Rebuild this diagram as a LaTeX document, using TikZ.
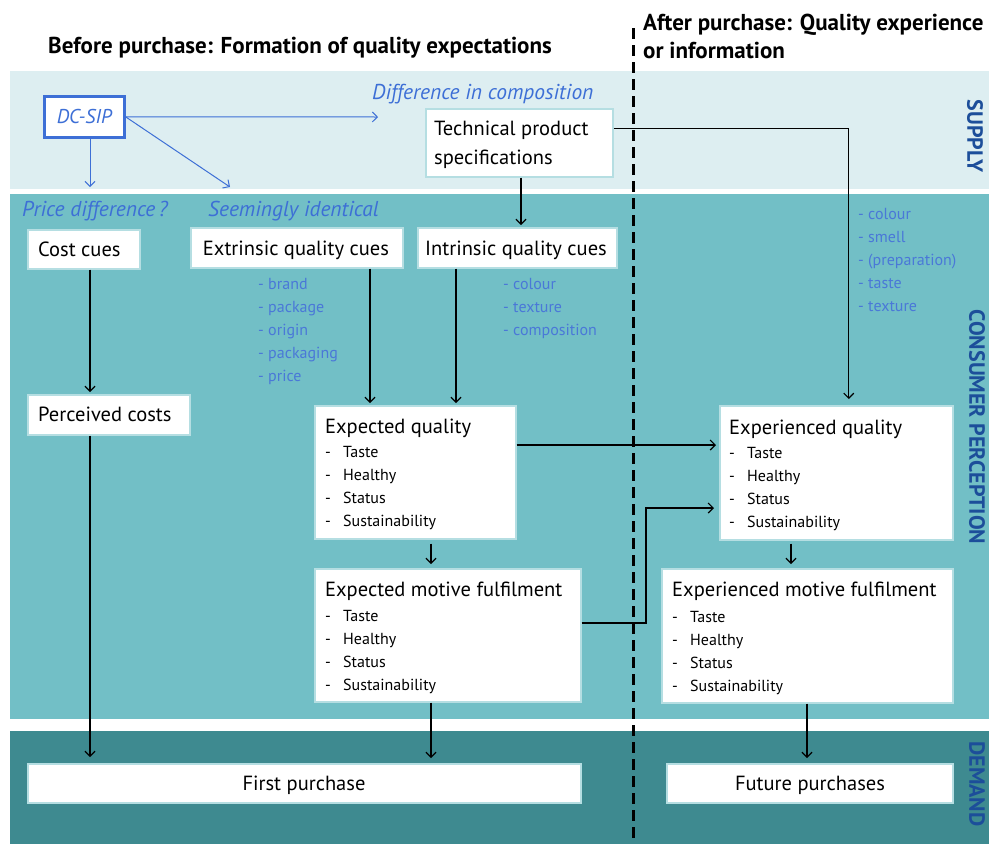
\documentclass[tikz,border=0pt]{standalone}
\usepackage{fontspec}
\setmainfont{PT Sans}
\usetikzlibrary{arrows.meta,calc}
\definecolor{supplybg}{HTML}{DDEEF1}
\definecolor{consbg}{HTML}{72BFC6}
\definecolor{demandbg}{HTML}{3E8A90}
\definecolor{boxline}{HTML}{B5DEE2}
\definecolor{lblue}{HTML}{3D6FD6}
\definecolor{listblue}{HTML}{4A78D8}
\definecolor{sideblue}{HTML}{1C4E9A}
\tikzset{
  box/.style={draw=boxline, fill=white, line width=1.5pt, anchor=north west, inner sep=0pt},
  ttl/.style={font=\fontsize{20.5}{24}\selectfont, inner sep=0pt, anchor=base west},
  ttlc/.style={font=\fontsize{20.5}{24}\selectfont, inner sep=0pt, anchor=base},
  itm/.style={font=\fontsize{16}{18}\selectfont, inner sep=0pt, anchor=base west},
  bl/.style={font=\fontsize{16}{18}\selectfont, text=listblue, inner sep=0pt, anchor=base west},
  bli/.style={font=\itshape\fontsize{21.5}{24}\selectfont, text=lblue, inner sep=0pt, anchor=base west},
  side/.style={font=\bfseries\fontsize{22}{24}\selectfont, text=sideblue, rotate=-90, inner sep=0pt},
  arr/.style={-{Straight Barb[length=5pt,width=10pt]}, line width=1.2pt, black, shorten >=2pt},
  barr/.style={-{Straight Barb[length=5pt,width=10pt]}, line width=1pt, lblue},
}
\begin{document}
\begin{tikzpicture}[x=1pt,y=-1pt]
\useasboundingbox (0,0) rectangle (989,844);
% bands
\fill[supplybg] (10,71) rectangle (989,189);
\fill[consbg] (10,194) rectangle (989,719);
\fill[demandbg] (10,731) rectangle (989,844);
% titles
\node[font=\bfseries\fontsize{23}{26}\selectfont, inner sep=0pt, anchor=base] (t1) at (300,53) {Before purchase: Formation of quality expectations};
\node[font=\bfseries\fontsize{23}{28}\selectfont, inner sep=0pt, anchor=base west] (t2) at (643,30) {After purchase: Quality experience};
\node[font=\bfseries\fontsize{23}{28}\selectfont, inner sep=0pt, anchor=base west] (t3) at (643,58) {or information};
% dashed divider
\draw[line width=3pt, dash pattern=on 11pt off 6pt] (633,28) coordinate (dtop) -- (633,844) coordinate (dbot);
% side labels
\node[side] (sup) at (975,136) {SUPPLY};
\node[side] (con) at (977,427) {CONSUMER PERCEPTION};
\node[side] (dem) at (977,784) {DEMAND};
% boxes
\node[box, draw=lblue, line width=2.5pt, minimum width=80pt, minimum height=41pt] (dc) at (43,95) {};
\node[font=\itshape\fontsize{20}{22}\selectfont, text=lblue, inner sep=0pt] (dct) at (dc.center) {DC-SIP};
\node[box, minimum width=187pt, minimum height=68pt] (tech) at (425,108) {};
\node[ttl] (techt1) at (434,135) {Technical product};
\node[ttl] (techt2) at (434,164) {specifications};
\node[box, minimum width=112pt, minimum height=39pt] (cost) at (27,229) {};
\node[ttl] (costt) at (38,256) {Cost cues};
\node[box, minimum width=212pt, minimum height=40pt] (ext) at (190,227) {};
\node[ttlc] (extt) at (296,255) {Extrinsic quality cues};
\node[box, minimum width=199pt, minimum height=40pt] (int) at (417,227) {};
\node[ttlc] (intt) at (516,255) {Intrinsic quality cues};
\node[box, minimum width=162pt, minimum height=40pt] (perc) at (27,394) {};
\node[ttl] (perct) at (38,421) {Perceived costs};
\node[box, minimum width=201pt, minimum height=133pt] (eq) at (314,405) {};
\node[ttl] (eqt) at (325,433) {Expected quality};
\node[box, minimum width=266pt, minimum height=133pt] (emf) at (314,568) {};
\node[ttl] (emft) at (325,596) {Expected motive fulfilment};
\node[box, minimum width=233pt, minimum height=134pt] (xq) at (719,405) {};
\node[ttl] (xqt) at (729,434) {Experienced quality};
\node[box, minimum width=291pt, minimum height=134pt] (xmf) at (661,568) {};
\node[ttl] (xmft) at (672,596) {Experienced motive fulfilment};
\node[box, minimum width=553pt, minimum height=39pt] (fp) at (27,763) {};
\node[ttlc] (fpt) at (304,790) {First purchase};
\node[box, minimum width=286pt, minimum height=39pt] (fut) at (666,763) {};
\node[ttlc] (futt) at (810,790) {Future purchases};
% item lists
\foreach \bx/\dx/\tx/\ys in {eq/325/343/457, emf/325/343/621, xq/729/747/458, xmf/672/690/622}{
  \foreach \w [count=\k from 0] in {Taste,Healthy,Status,Sustainability}{
    \node[itm] (\bx d\k) at (\dx,\ys+23*\k) {-};
    \node[itm] (\bx i\k) at (\tx,\ys+23*\k) {\w};
  }
}
% blue lists
\foreach \w [count=\k from 0] in {brand,package,origin,packaging,price}
  \node[bl] (el\k) at (258,289+23*\k) {- \w};
\foreach \w [count=\k from 0] in {colour,texture,composition}
  \node[bl] (il\k) at (503,289+23*\k) {- \w};
\foreach \w [count=\k from 0] in {colour,smell,(preparation),taste,texture}
  \node[bl] (rl\k) at (858,219+23*\k) {- \w};
% blue italic labels
\node[bli] (dic) at (372,99) {Difference in composition};
\node[bli] (pd) at (22,216) {Price difference\,?};
\node[bli] (si) at (208,216) {Seemingly identical};
% blue arrows
\coordinate (dcR) at (378,117);
\coordinate (dcD) at (230,187);
\coordinate (dcB) at (90,187);
\draw[barr] (dc.east) -- (dcR);
\draw[barr] (dc.east) -- (dcD);
\draw[barr] (dc.south -| dcB) -- (dcB);
% black arrows
\draw[arr] (tech.south -| 521,0) -- (int.north -| 521,0);
\draw[arr] ([yshift=14pt]tech.east) -| ([xshift=12.5pt,yshift=4pt]xq.north);
\draw[arr] (cost.south -| 90,0) -- (perc.north -| 90,0);
\draw[arr] (perc.south -| 90,0) -- ([yshift=4pt]fp.north -| 90,0);
\draw[arr] (ext.south -| 370,0) -- (eq.north -| 370,0);
\draw[arr] (int.south -| 456,0) -- (eq.north -| 456,0);
\draw[arr] (eq.east |- 0,445) -- ([xshift=-1pt]xq.west |- 0,445);
\draw[arr] ([yshift=-4pt]eq.south -| 431,0) -- ([yshift=2pt]emf.north -| 431,0);
\draw[arr] (emf.east |- 0,623) -- (646,623) coordinate (elb1) |- ([xshift=-3pt]xq.west |- 0,508);
\draw[arr] (emf.south -| 431,0) -- ([yshift=3pt]fp.north -| 431,0);
\draw[arr] ([yshift=-3pt]xq.south -| 791,0) -- ([yshift=2pt]xmf.north -| 791,0);
\draw[arr] (xmf.south -| 807,0) -- ([yshift=3pt]fut.north -| 807,0);
\end{tikzpicture}
\end{document}
